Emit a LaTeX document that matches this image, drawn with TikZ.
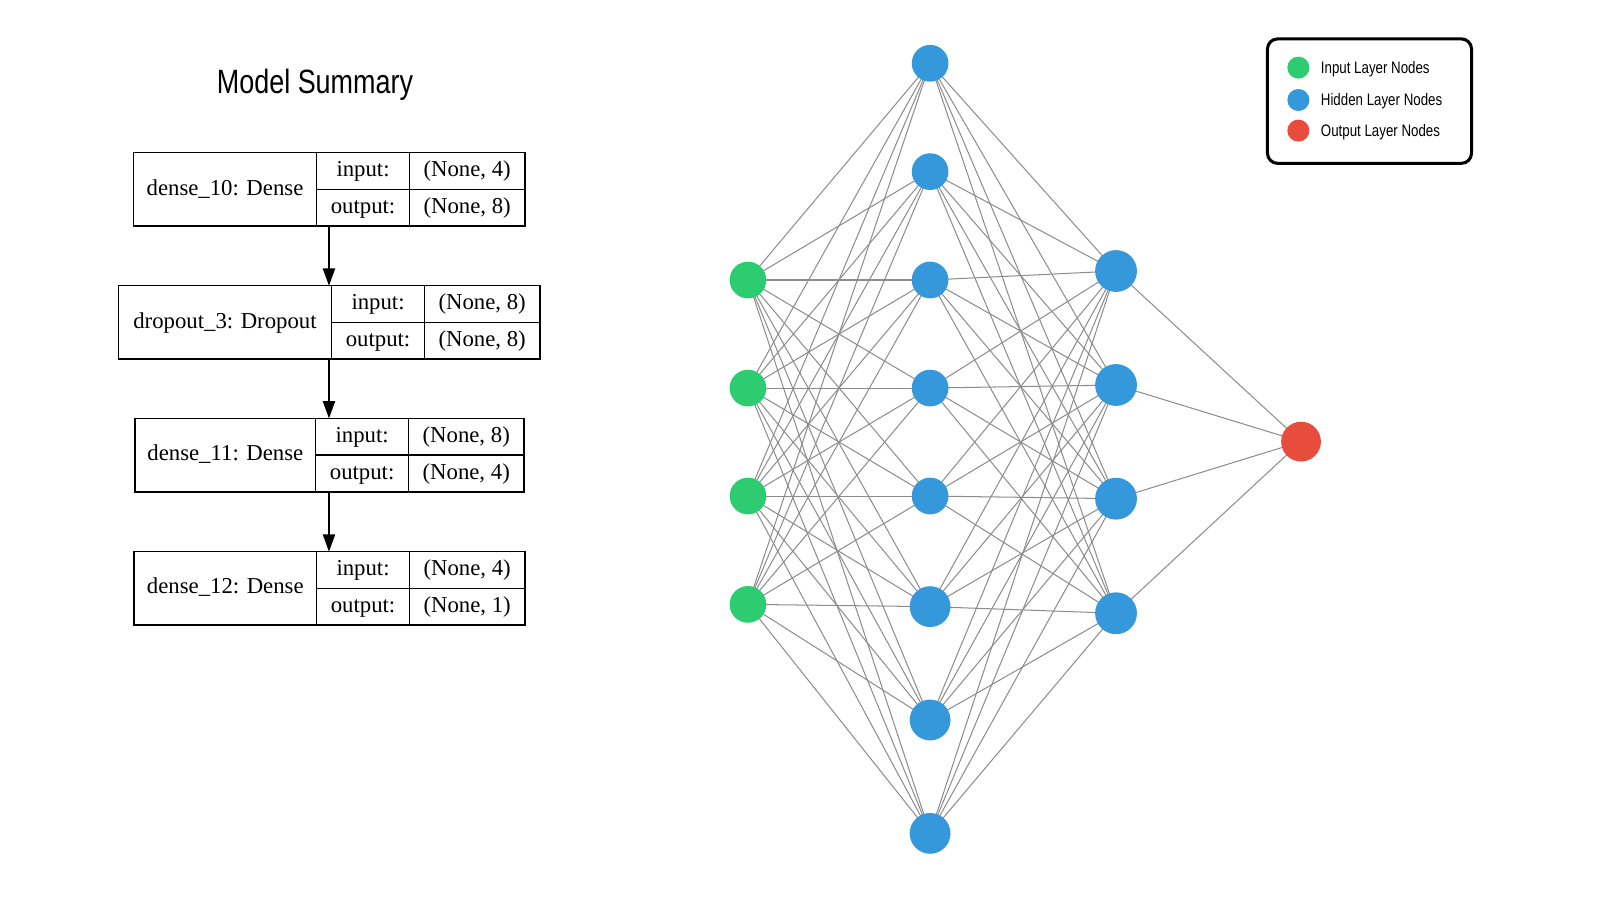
\documentclass[tikz,border=0pt]{standalone}
\usepackage{fontspec}
\usepackage{tikz}
\usetikzlibrary{arrows.meta,backgrounds}
\setmainfont{Liberation Serif}
\newfontfamily\narrowsans[FakeStretch=0.8]{Liberation Sans}
\definecolor{ingreen}{HTML}{2ECC71}
\definecolor{hidblue}{HTML}{3498DB}
\definecolor{outred}{HTML}{E74C3C}
\definecolor{wiregray}{HTML}{8C8C8C}

\begin{document}
\begin{tikzpicture}[
  x=1pt, y=-1pt,
  cell/.style={draw, line width=1.5pt, inner sep=0pt, outer sep=0pt,
    anchor=north west, minimum height=36, text height=15.5pt,
    text depth=4.5pt, font=\fontsize{22.3}{26}\selectfont},
  flow/.style={line width=1.5pt, -{Triangle[length=17pt,width=12pt]}},
  neuron/.style={circle, inner sep=0pt},
  wire/.style={draw=wiregray, line width=1pt},
  legtext/.style={anchor=base west, inner sep=0pt,
    font=\narrowsans\fontsize{16.3}{19}\selectfont}
]
  \useasboundingbox (0,0) rectangle (1568,880);

  \node[anchor=base, font=\narrowsans\fontsize{33}{40}\selectfont] (title)
    at (308.7,91.5) {Model Summary};

  \foreach \nm/\txt/\x/\y/\w/\vin/\vout in {
      d10/dense\_10: Dense/130.7/149.6/179.6/4/8,
      dr3/dropout\_3: Dropout/116/280/209/8/8,
      d11/dense\_11: Dense/132.3/410/177.1/8/4,
      d12/dense\_12: Dense/131.3/540.6/179/4/1}
  {
    \node[cell, minimum width=\w, minimum height=72] (\nm) at (\x,\y) {\txt};
    \node[cell, minimum width=91] (\nm-i) at (\nm.north east) {input:};
    \node[cell, minimum width=91] (\nm-o) at (\nm-i.south west) {output:};
    \node[cell, minimum width=113] (\nm-iv) at (\nm-i.north east) {(None, \vin)};
    \node[cell, minimum width=113] (\nm-ov) at (\nm-o.north east) {(None, \vout)};
  }

  \coordinate (ax) at (322.4,0);
  \draw[flow] (d10.south -| ax) -- (dr3.north -| ax);
  \draw[flow] (dr3.south -| ax) -- (d11.north -| ax);
  \draw[flow] (d11.south -| ax) -- (d12.north -| ax);

  \foreach \i/\y in {1/274.4,2/380.3,3/486.1,4/592.3}
    \node[neuron, fill=ingreen, minimum size=36] (in\i) at (733,\y) {};
  \foreach \i/\y/\d in {1/62/36,2/168.2/36,3/274.4/36,4/380.3/36,
      5/486.1/36,6/594.5/40,7/705.6/40,8/816.7/40}
    \node[neuron, fill=hidblue, minimum size=\d] (ha\i) at (911.5,\y) {};
  \foreach \i/\y in {1/265.6,2/377.3,3/488.7,4/601}
    \node[neuron, fill=hidblue, minimum size=41] (hb\i) at (1093.7,\y) {};
  \node[neuron, fill=outred, minimum size=39] (out) at (1275,432.8) {};

  \begin{scope}[on background layer]
    \foreach \i in {1,...,4}
      \foreach \j in {1,...,8}
        \draw[wire] (in\i.center) -- (ha\j.center);
    \foreach \i in {1,...,8}
      \foreach \j in {1,...,4}
        \draw[wire] (ha\i.center) -- (hb\j.center);
    \foreach \i in {1,...,4}
      \draw[wire] (hb\i.center) -- (out.center);
  \end{scope}

  \node[draw, line width=3pt, rounded corners=10pt, minimum width=200,
    minimum height=122, anchor=north west] (legend) at (1240.6,36.6) {};
  \foreach \nm/\col/\y/\txt in {lgi/ingreen/66.3/Input Layer Nodes,
      lgh/hidblue/98/Hidden Layer Nodes, lgo/outred/128/Output Layer Nodes}
  {
    \node[neuron, fill=\col, minimum size=21.6] (\nm) at (1272.4,\y) {};
    \node[legtext] (\nm-t) at ([xshift=21.9pt,yshift=-5.6pt]\nm.center) {\txt};
  }
\end{tikzpicture}
\end{document}
